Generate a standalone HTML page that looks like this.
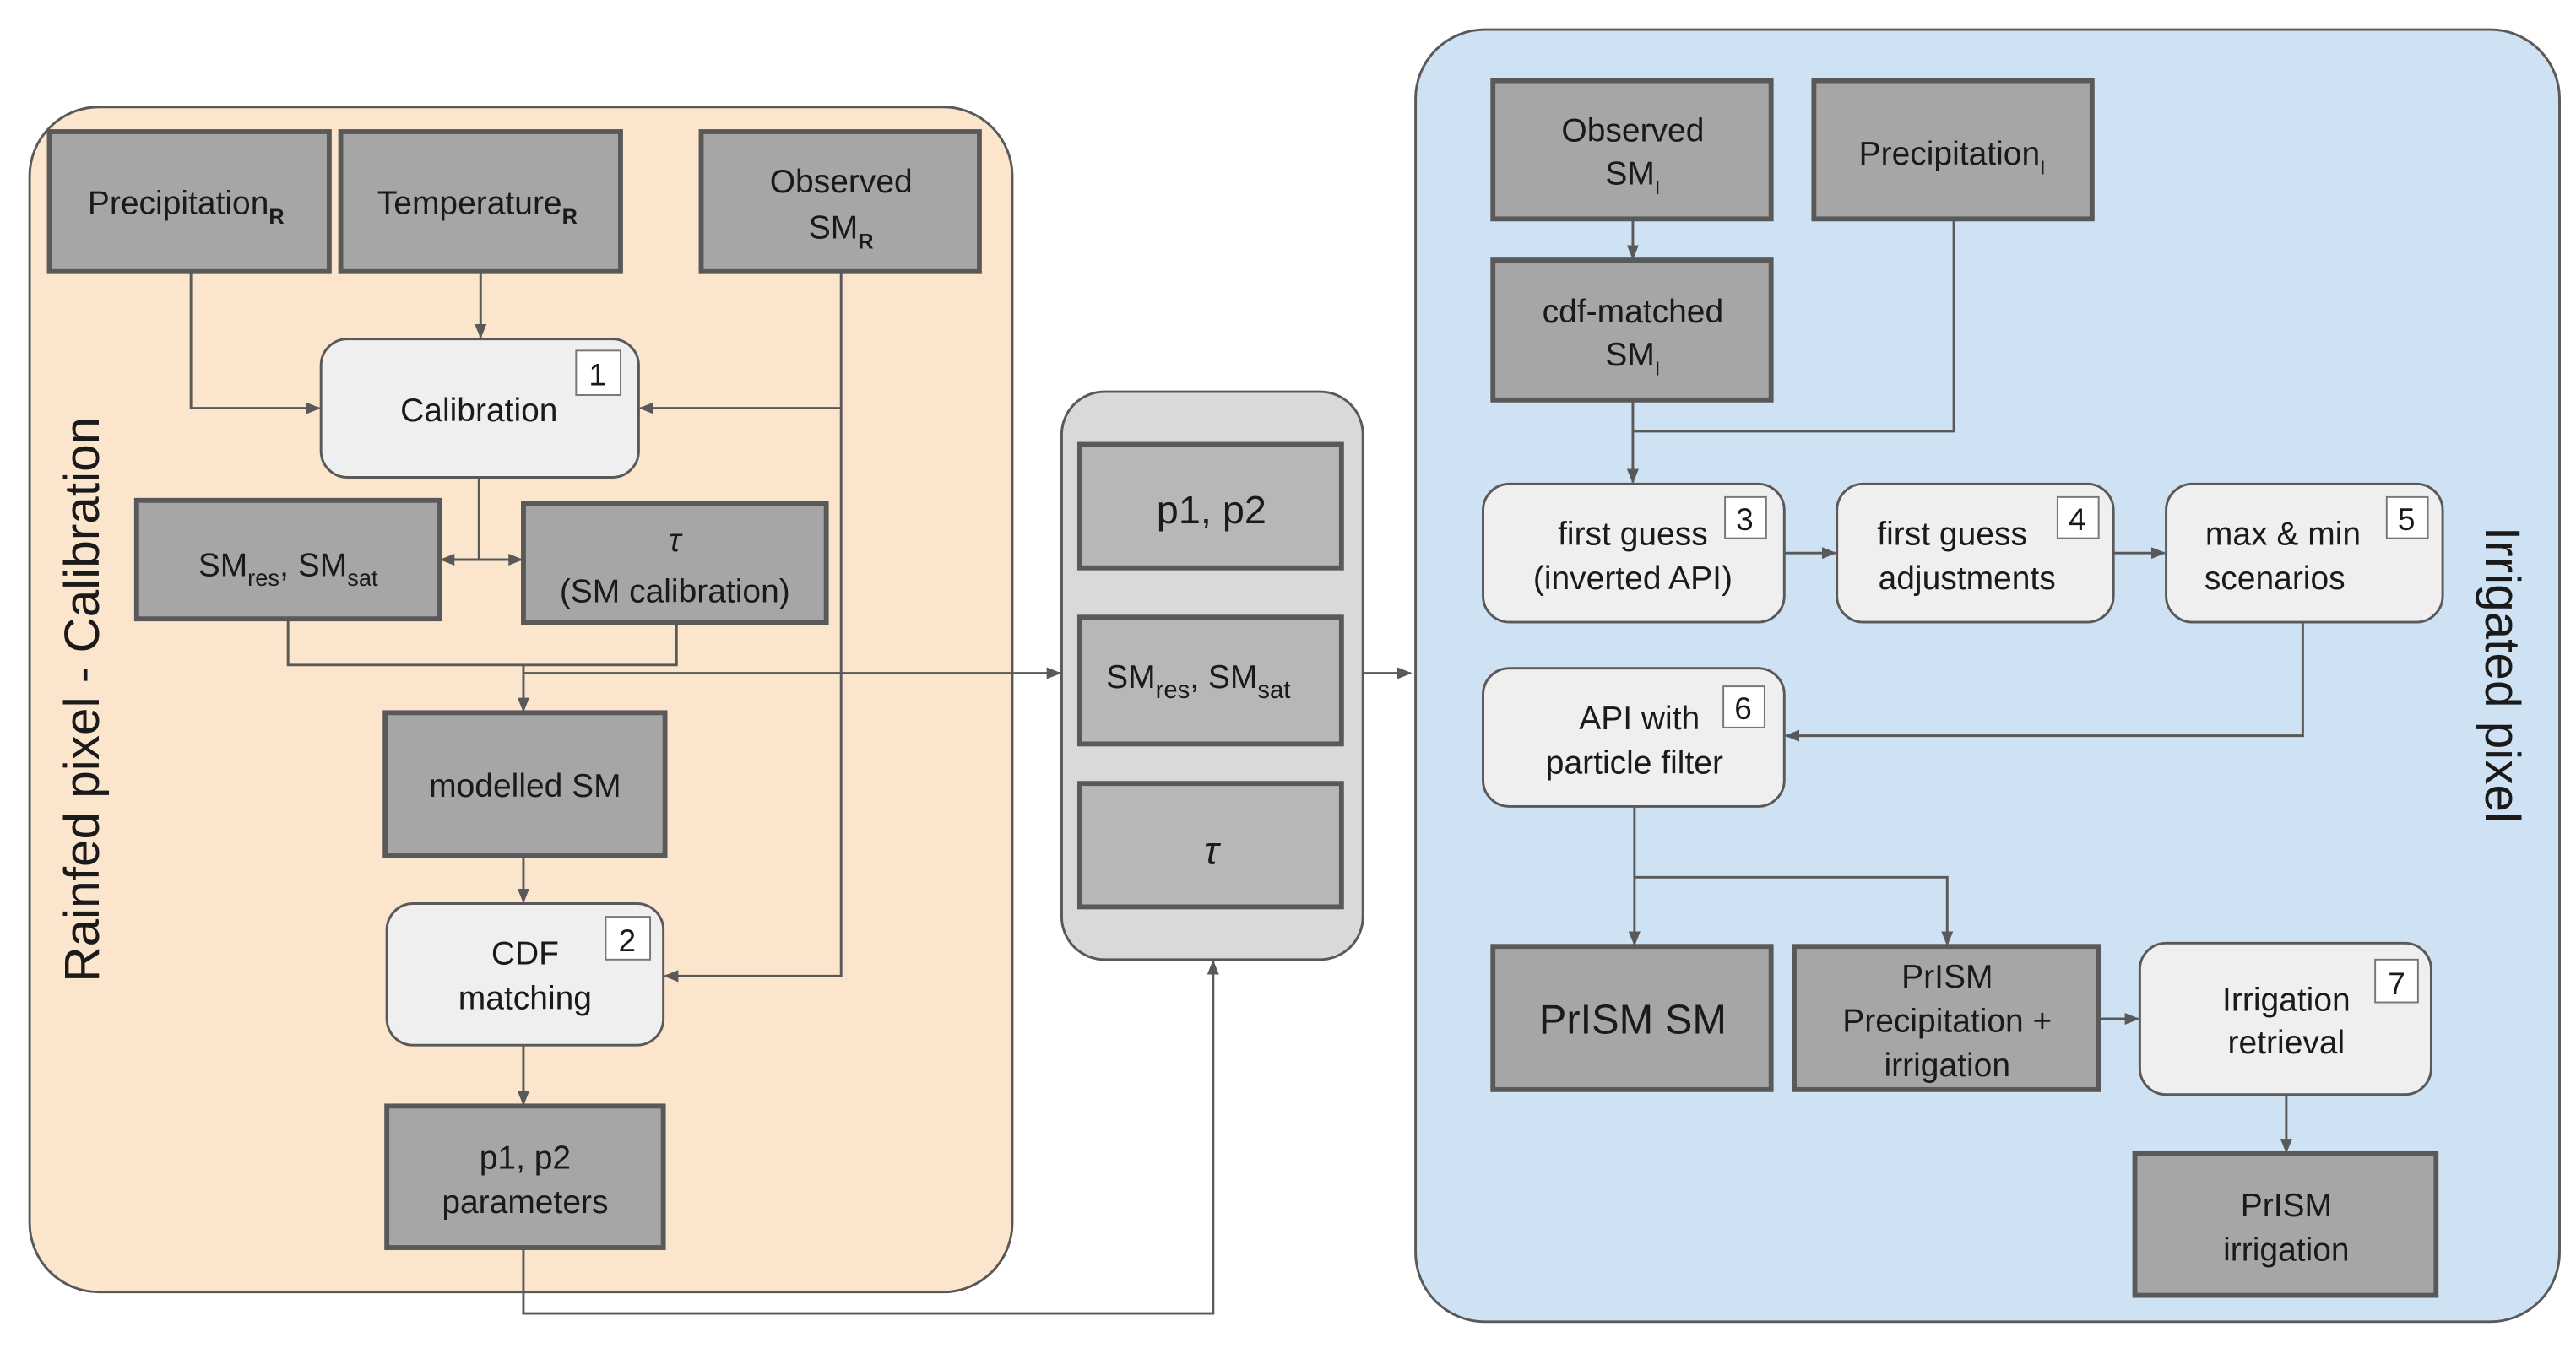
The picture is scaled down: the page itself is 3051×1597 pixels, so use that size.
<!DOCTYPE html>
<html><head><meta charset="utf-8"><style>
html,body{margin:0;padding:0;background:#fff;}
svg{display:block;}
text{font-family:"Liberation Sans",Arial,sans-serif;fill:#1a1a1a;}
</style></head><body>
<svg width="3051" height="1597" viewBox="0 0 1565 819" preserveAspectRatio="none" xmlns="http://www.w3.org/2000/svg">
<defs>
<marker id="a" viewBox="0 0 10 10" refX="9" refY="5" markerWidth="9" markerHeight="9" markerUnits="userSpaceOnUse" orient="auto"><path d="M0,1 L10,5 L0,9 z" fill="#595959"/></marker>
</defs>
<rect x="0" y="0" width="1565" height="819" fill="#fff"/>
<!-- panels -->
<rect x="18" y="65" width="597" height="720" rx="42" fill="#fce5cd" stroke="#595959" stroke-width="1.5"/>
<rect x="860" y="18" width="695" height="785" rx="42" fill="#cfe2f3" stroke="#595959" stroke-width="1.5"/>
<rect x="645" y="238" width="183" height="345" rx="26" fill="#d9d9d9" stroke="#595959" stroke-width="1.5"/>

<g text-anchor="middle" font-size="20">
<text transform="translate(60,425) rotate(-90)" font-size="30">Rainfed pixel - Calibration</text>
<text transform="translate(1510,410) rotate(90)" font-size="30">Irrigated pixel</text>
</g>

<!-- connectors -->
<g fill="none" stroke="#595959" stroke-width="1.5">
<path d="M116,165 V248 H194" marker-end="url(#a)"/>
<path d="M292,165 V205" marker-end="url(#a)"/>
<path d="M511,165 V593 H404" marker-end="url(#a)"/>
<path d="M511,248 H389" marker-end="url(#a)"/>
<path d="M291,290 V340 H268" marker-end="url(#a)"/>
<path d="M291,340 H317" marker-end="url(#a)"/>
<path d="M175,376 V404 H411 V378"/>
<path d="M318,404 V432" marker-end="url(#a)"/>
<path d="M318,409 H644" marker-end="url(#a)"/>
<path d="M318,520 V548" marker-end="url(#a)"/>
<path d="M318,635 V671" marker-end="url(#a)"/>
<path d="M318,758 V798 H737 V584" marker-end="url(#a)"/>
<path d="M828,409 H857" marker-end="url(#a)"/>
<path d="M992,133 V157" marker-end="url(#a)"/>
<path d="M1187,133 V262 H992"/>
<path d="M992,243 V293" marker-end="url(#a)"/>
<path d="M1084,336 H1115" marker-end="url(#a)"/>
<path d="M1284,336 H1315" marker-end="url(#a)"/>
<path d="M1399,378 V447 H1085" marker-end="url(#a)"/>
<path d="M993,490 V574" marker-end="url(#a)"/>
<path d="M993,533 H1183 V574" marker-end="url(#a)"/>
<path d="M1275,619 H1299" marker-end="url(#a)"/>
<path d="M1389,665 V700" marker-end="url(#a)"/>
</g>

<!-- dark boxes -->
<g fill="#a6a6a6" stroke="#595959" stroke-width="3">
<rect x="30" y="80" width="170" height="85"/>
<rect x="207" y="80" width="170" height="85"/>
<rect x="426" y="80" width="169" height="85"/>
<rect x="83" y="304" width="184" height="72"/>
<rect x="318" y="306" width="184" height="72"/>
<rect x="234" y="433" width="170" height="87"/>
<rect x="235" y="672" width="168" height="86"/>
<rect x="907" y="49" width="169" height="84"/>
<rect x="1102" y="49" width="169" height="84"/>
<rect x="907" y="158" width="169" height="85"/>
<rect x="907" y="575" width="169" height="87"/>
<rect x="1090" y="575" width="185" height="87"/>
<rect x="1297" y="701" width="183" height="86"/>
</g>
<g fill="#b7b7b7" stroke="#595959" stroke-width="3">
<rect x="656" y="270" width="159" height="75"/>
<rect x="656" y="375" width="159" height="77"/>
<rect x="656" y="476" width="159" height="75"/>
</g>
<!-- light boxes -->
<g fill="#efefef" stroke="#595959" stroke-width="1.5">
<rect x="195" y="206" width="193" height="84" rx="16"/>
<rect x="235" y="549" width="168" height="86" rx="16"/>
<rect x="901" y="294" width="183" height="84" rx="16"/>
<rect x="1116" y="294" width="168" height="84" rx="16"/>
<rect x="1316" y="294" width="168" height="84" rx="16"/>
<rect x="901" y="406" width="183" height="84" rx="16"/>
<rect x="1300" y="573" width="177" height="92" rx="16"/>
</g>
<!-- badges -->
<g fill="#fff" stroke="#777" stroke-width="1">
<rect x="350" y="213" width="27" height="27"/>
<rect x="368" y="557" width="27" height="26"/>
<rect x="1048" y="302" width="25" height="25"/>
<rect x="1250" y="302" width="25" height="25"/>
<rect x="1450" y="302" width="25" height="25"/>
<rect x="1047" y="417" width="25" height="25"/>
<rect x="1443" y="583" width="26" height="26"/>
</g>
<g text-anchor="middle" font-size="19">
<text x="363" y="234">1</text>
<text x="381" y="578">2</text>
<text x="1060" y="322">3</text>
<text x="1262" y="322">4</text>
<text x="1462" y="322">5</text>
<text x="1059" y="437">6</text>
<text x="1456" y="604">7</text>
</g>

<!-- labels -->
<g text-anchor="middle" font-size="20">
<text x="113" y="130">Precipitation<tspan font-size="13" dy="6" font-weight="bold">R</tspan></text>
<text x="290" y="130">Temperature<tspan font-size="13" dy="6" font-weight="bold">R</tspan></text>
<text x="511" y="117">Observed</text>
<text x="511" y="145">SM<tspan font-size="13" dy="6" font-weight="bold">R</tspan></text>
<text x="291" y="256">Calibration</text>
<text x="175" y="350">SM<tspan font-size="14" dy="6">res</tspan><tspan dy="-6">, SM</tspan><tspan font-size="14" dy="6">sat</tspan></text>
<text x="410" y="335" font-family="Liberation Serif,serif" font-style="italic">τ</text>
<text x="410" y="366">(SM calibration)</text>
<text x="319" y="484">modelled SM</text>
<text x="319" y="586">CDF</text>
<text x="319" y="613">matching</text>
<text x="319" y="710">p1, p2</text>
<text x="319" y="737">parameters</text>
<text x="736" y="318" font-size="24">p1, p2</text>
<text x="728" y="418">SM<tspan font-size="15" dy="6">res</tspan><tspan dy="-6">, SM</tspan><tspan font-size="15" dy="6">sat</tspan></text>
<text x="736" y="525" font-family="Liberation Serif,serif" font-style="italic" font-size="24">τ</text>
<text x="992" y="86">Observed</text>
<text x="992" y="112">SM<tspan font-size="12" dy="6">I</tspan></text>
<text x="1186" y="100">Precipitation<tspan font-size="12" dy="6">I</tspan></text>
<text x="992" y="196">cdf-matched</text>
<text x="992" y="222">SM<tspan font-size="12" dy="6">I</tspan></text>
<text x="992" y="331">first guess</text>
<text x="992" y="358">(inverted API)</text>
<text x="1186" y="331">first guess</text>
<text x="1195" y="358">adjustments</text>
<text x="1387" y="331">max &amp; min</text>
<text x="1382" y="358">scenarios</text>
<text x="996" y="443">API with</text>
<text x="993" y="470">particle filter</text>
<text x="992" y="628" font-size="25">PrISM SM</text>
<text x="1183" y="600">PrISM</text>
<text x="1183" y="627">Precipitation +</text>
<text x="1183" y="654">irrigation</text>
<text x="1389" y="614">Irrigation</text>
<text x="1389" y="640">retrieval</text>
<text x="1389" y="739">PrISM</text>
<text x="1389" y="766">irrigation</text>
</g>
</svg>
</body></html>
